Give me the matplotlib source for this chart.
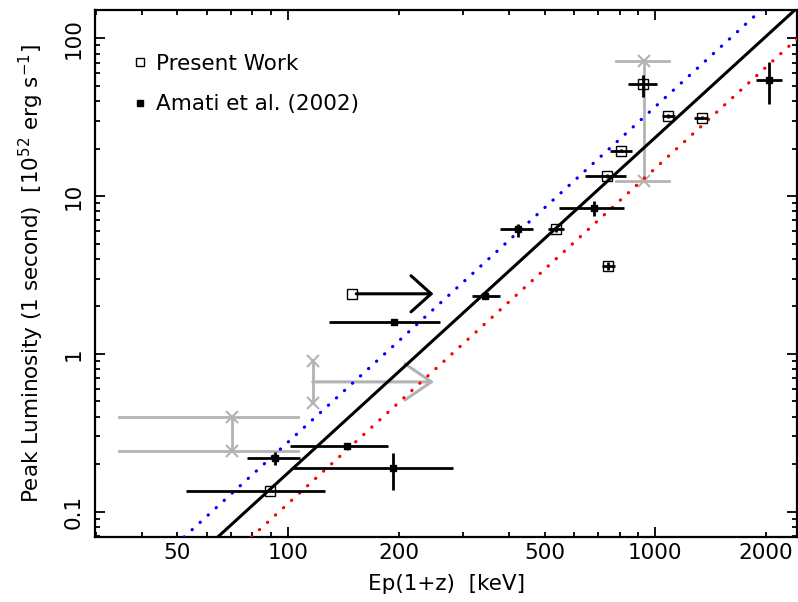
import matplotlib
matplotlib.use("Agg")
import matplotlib.pyplot as plt
from matplotlib import ticker
from matplotlib.lines import Line2D
import numpy as np

# Present work (open squares)
pw_ep = [89.3, 537, 738, 807, 925, 1087, 1340, 743]
pw_ep_lo = [52.6, 512, 644, 754, 841, 1042, 1279, 716]
pw_ep_hi = [126, 565, 832, 863, 1015, 1130, 1393, 778]
pw_lum = [0.135, 6.16, 13.4, 19.4, 51.1, 32.2, 31.4, 3.62]
pw_lum_lo = [0.135, 5.9, 13.0, 19.0, 42.7, 31.2, 30.6, 3.40]
pw_lum_hi = [0.135, 6.4, 13.8, 19.8, 58.5, 33.2, 32.2, 3.84]

# present work lower limit on Ep
pw_lim_ep = 149
pw_lim_ep_to = 249
pw_lim_lum = 2.40

# Amati et al. (2002) (filled squares)
amati_ep = [92.3, 144.5, 193.7, 194.5, 344, 422, 683, 2047]
amati_ep_lo = [77.1, 101, 103, 129.6, 318, 378, 548, 1884]
amati_ep_hi = [107.8, 187.5, 282, 259, 377, 466, 824, 2213]
amati_lum = [0.218, 0.261, 0.188, 1.585, 2.34, 6.16, 8.44, 54.4]
amati_lum_lo = [0.198, 0.261, 0.137, 1.585, 2.34, 5.5, 7.5, 38.2]
amati_lum_hi = [0.240, 0.261, 0.234, 1.585, 2.34, 6.65, 9.35, 71.1]

# grey luminosity ranges
grey_ep = [70.3, 935]
grey_ep_lo = [34.6, 781]
grey_ep_hi = [106.7, 1091]
grey_lum_lo = [0.243, 12.5]
grey_lum_hi = [0.397, 72.1]

# grey lower limit
grey_lim_ep = 116.8
grey_lim_ep_to = 250
grey_lim_lum_lo = 0.486
grey_lim_lum_hi = 0.906

# fitted relation log L = log_norm + slope * log Ep, +/- scatter
slope = 2.125
log_norm = -5.005
scatter = 0.195

GREY = "#b3b3b3"
FS = 15.5

plt.rcParams["font.family"] = "DejaVu Sans"

fig = plt.figure(figsize=(7.98, 6.02), dpi=100)
ax = fig.add_axes([0.119, 0.108, 0.88, 0.8754])
ax.set_xscale("log")
ax.set_yscale("log")
ax.set_xlim(29.8, 2438)
ax.set_ylim(0.069, 151)

# relation lines
ep_line = np.array([20.0, 4000.0])
base = log_norm + slope * np.log10(ep_line)
ax.plot(ep_line, 10 ** base, color="black", lw=2.2, zorder=3)
ax.plot(ep_line, 10 ** (base + scatter), color="blue", lw=2.3,
        dashes=(0.1, 3.3), dash_capstyle="round", zorder=3)
ax.plot(ep_line, 10 ** (base - scatter), color="red", lw=2.3,
        dashes=(0.1, 3.3), dash_capstyle="round", zorder=3)


def asym(val, lo, hi):
    val = np.array(val)
    return [val - np.array(lo), np.array(hi) - val]


# grey ranges
for e, elo, ehi, llo, lhi in zip(grey_ep, grey_ep_lo, grey_ep_hi,
                                 grey_lum_lo, grey_lum_hi):
    ax.plot([elo, ehi], [llo, llo], color=GREY, lw=2, zorder=2)
    ax.plot([elo, ehi], [lhi, lhi], color=GREY, lw=2, zorder=2)
    ax.plot([e, e], [llo, lhi], color=GREY, lw=2, zorder=2)
    ax.plot([e, e], [llo, lhi], "x", color=GREY, ms=9, mew=1.5, zorder=2)

grey_mid = np.sqrt(grey_lim_lum_lo * grey_lim_lum_hi)
ax.plot([grey_lim_ep, grey_lim_ep], [grey_lim_lum_lo, grey_lim_lum_hi],
        color=GREY, lw=2, zorder=2)
ax.plot([grey_lim_ep, grey_lim_ep], [grey_lim_lum_lo, grey_lim_lum_hi], "x",
        color=GREY, ms=9, mew=1.5, zorder=2)
ax.annotate("", xy=(grey_lim_ep_to, grey_mid), xytext=(grey_lim_ep, grey_mid),
            arrowprops=dict(arrowstyle="->,head_length=1.9,head_width=1.3",
                            color=GREY, lw=2.2, shrinkA=0, shrinkB=0,
                            mutation_scale=10), zorder=2)

# data
ax.errorbar(amati_ep, amati_lum,
            xerr=asym(amati_ep, amati_ep_lo, amati_ep_hi),
            yerr=asym(amati_lum, amati_lum_lo, amati_lum_hi),
            fmt="s", color="black", ms=4.5, elinewidth=2, capsize=0, zorder=4)
ax.errorbar(pw_ep, pw_lum,
            xerr=asym(pw_ep, pw_ep_lo, pw_ep_hi),
            yerr=asym(pw_lum, pw_lum_lo, pw_lum_hi),
            fmt="s", color="black", mfc="none", ms=6.5, mew=1.0,
            elinewidth=2, capsize=0, zorder=4)
ax.plot([pw_lim_ep], [pw_lim_lum], "s", color="black", mfc="none",
        ms=6.5, mew=1.0, zorder=4)
ax.annotate("", xy=(pw_lim_ep_to, pw_lim_lum), xytext=(pw_lim_ep * 1.03, pw_lim_lum),
            arrowprops=dict(arrowstyle="->,head_length=1.45,head_width=1.3",
                            color="black", lw=2.2, shrinkA=0, shrinkB=0,
                            mutation_scale=10), zorder=4)

# axes styling
for sp in ax.spines.values():
    sp.set_linewidth(1.6)
ax.tick_params(which="both", direction="in", top=True, right=True,
               labelsize=FS, width=1.3)
ax.tick_params(which="major", length=7.5)
ax.tick_params(which="minor", length=3.8)
ax.tick_params(axis="x", which="both", pad=4)
ax.tick_params(axis="y", which="both", pad=8, labelrotation=90)

ax.xaxis.set_major_locator(ticker.LogLocator(base=10, subs=(1.0,)))
ax.xaxis.set_minor_locator(ticker.LogLocator(base=10, subs=np.arange(2, 10)))
ax.xaxis.set_major_formatter(ticker.FuncFormatter(lambda v, p: "%d" % round(v)))
ax.xaxis.set_minor_formatter(ticker.FuncFormatter(
    lambda v, p: "%d" % round(v) if round(v) in (50, 200, 500, 2000) else ""))

ax.yaxis.set_major_locator(ticker.LogLocator(base=10, subs=(1.0,)))
ax.yaxis.set_minor_locator(ticker.LogLocator(base=10, subs=np.arange(2, 10)))
ax.yaxis.set_major_formatter(ticker.FuncFormatter(lambda v, p: "%g" % v))
ax.yaxis.set_minor_formatter(ticker.NullFormatter())

ax.set_xlabel("Ep(1+z)  [keV]", fontsize=FS, labelpad=8)
ax.set_ylabel(r"Peak Luminosity (1 second)  [10$^{52}$ erg s$^{-1}$]",
              fontsize=FS, labelpad=13)

handles = [
    Line2D([], [], ls="none", marker="s", mfc="none", mec="black", ms=5.5, mew=1.0),
    Line2D([], [], ls="none", marker="s", color="black", ms=4),
]
ax.legend(handles, ["Present Work", "Amati et al. (2002)"], frameon=False,
          loc="upper left", bbox_to_anchor=(0.055, 0.917), borderaxespad=0,
          borderpad=0, handlelength=0.6, handletextpad=0.45, labelspacing=0.95,
          fontsize=FS)

fig.canvas.draw()
for t in ax.yaxis.get_major_ticks():
    t.label1.set_verticalalignment("center")

fig.savefig("out.png", dpi=100)
